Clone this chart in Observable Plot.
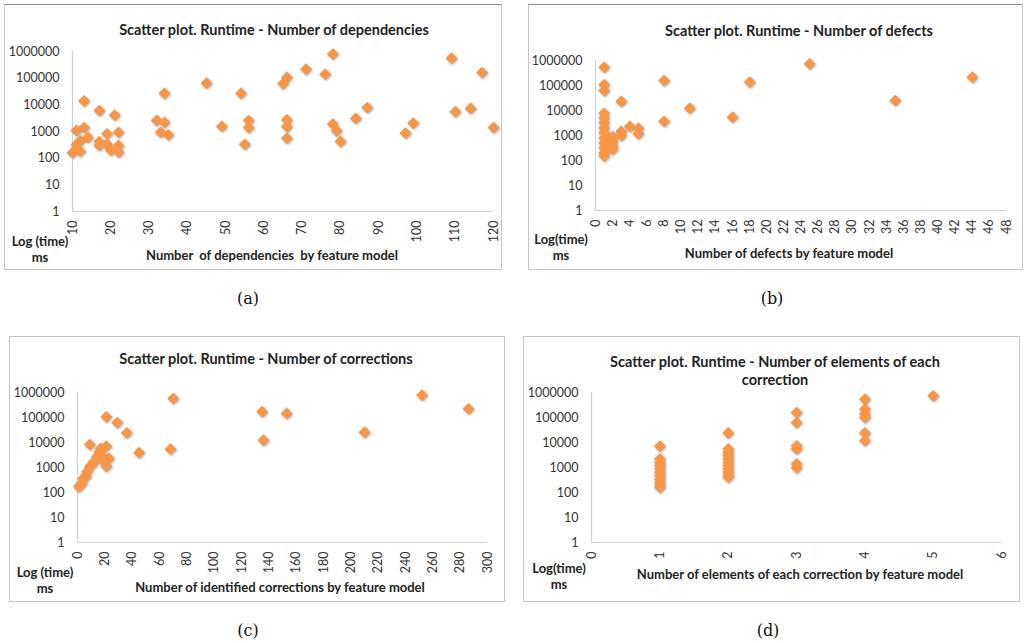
<!DOCTYPE html>
<html>
<head>
<meta charset="utf-8">
<script src="https://cdn.jsdelivr.net/npm/d3@7"></script>
<script src="https://cdn.jsdelivr.net/npm/@observablehq/plot@0.6"></script>
<style>
  html, body { margin: 0; padding: 0; background: #fff; }
  #root { position: relative; width: 1024px; height: 643px; overflow: hidden; background: #fff; font-family: Lato, "Open Sans", sans-serif; }
  .box { position: absolute; box-sizing: border-box; border: 1px solid #c4c4c4; }
  .lbl { position: absolute; transform: translate(-50%, -50%); white-space: pre; color: #222; font-weight: bold; }
  .cap { position: absolute; transform: translate(-50%, -50%); font-family: "DejaVu Serif", "Liberation Serif", serif; font-size: 16px; color: #111; }
  .wrap { position: absolute; }
</style>
</head>
<body>
<div id="root"></div>
<script>
// ---- data ----
const yTicks = [1, 10, 100, 1000, 10000, 100000, 1000000];

// (a) dependencies
const depTicks = [10, 20, 30, 40, 50, 60, 70, 80, 90, 100, 110, 120];
const depX = [10, 11, 11, 12, 12, 13, 13, 14, 17, 17, 17, 19, 19, 20, 21, 22, 22, 22, 32, 33, 34, 34, 35, 45, 49, 54, 55, 56, 56, 65, 66, 66, 66, 66, 71, 76, 78, 78, 79, 80, 84, 87, 97, 99, 109, 110, 114, 117, 120];
const depY = [160, 1100, 320, 450, 180, 14000, 1400, 600, 6100, 420, 300, 820, 330, 200, 4100, 930, 300, 170, 2600, 930, 27000, 2200, 750, 65000, 1550, 27000, 330, 2600, 1400, 63000, 107000, 2700, 1540, 560, 218000, 141000, 800000, 1900, 1060, 425, 3100, 7900, 870, 2050, 560000, 5500, 7300, 163000, 1400];

// (b) defects
const defTicks = [0, 2, 4, 6, 8, 10, 12, 14, 16, 18, 20, 22, 24, 26, 28, 30, 32, 34, 36, 38, 40, 42, 44, 46, 48];
const defX = [1, 1, 1, 3, 8, 18, 25, 44, 35, 11, 16, 8, 4, 5, 5, 3, 3, 1, 1, 1, 1, 1, 1, 1, 1, 1, 1, 2, 2, 2, 2];
const defY = [540000, 108000, 63000, 23000, 158000, 136000, 740000, 215000, 25000, 12300, 5400, 3700, 2300, 1950, 1170, 1450, 1000, 7700, 5000, 3200, 2000, 1300, 800, 500, 320, 200, 150, 900, 600, 380, 280];

// (c) corrections
const corTicks = [0, 20, 40, 60, 80, 100, 120, 140, 160, 180, 200, 220, 240, 260, 280, 300];
const corX = [70, 252, 286, 135, 153, 136, 210, 21, 29, 36, 45, 68, 9, 21, 23, 21, 1, 2, 3, 4, 6, 7, 9, 10, 12, 13, 14, 16, 17, 18, 19];
const corY = [575000, 780000, 223000, 170000, 145000, 12300, 25700, 107000, 63000, 24500, 3900, 5400, 8300, 7100, 2300, 1120, 170, 200, 230, 365, 430, 680, 1070, 1230, 1700, 1950, 2700, 4300, 5800, 3000, 1800];

// (d) elements of each correction
const elTicks = [0, 1, 2, 3, 4, 5, 6];
const elX = [1, 1, 1, 1, 1, 1, 1, 1, 1, 1, 1, 2, 2, 2, 2, 2, 2, 2, 2, 2, 2, 2, 3, 3, 3, 3, 3, 3, 4, 4, 4, 4, 4, 4, 5];
const elY = [7100, 2200, 1600, 1200, 900, 650, 480, 350, 260, 200, 160, 24000, 5500, 4000, 3000, 2200, 1600, 1200, 900, 650, 480, 410, 158000, 63000, 7400, 5500, 1380, 970, 540000, 218000, 137000, 100000, 24000, 11800, 740000];

// ---- rendering ----
const root = document.getElementById("root");
const ORANGE = "#F79646";
const diamond = {
  draw(context, size) {
    const r = Math.sqrt(size) * 0.62625;
    context.moveTo(0, -r); context.lineTo(r, 0); context.lineTo(0, r); context.lineTo(-r, 0); context.closePath();
  }
};

function addText(cls, text, x, y, size) {
  const d = document.createElement("div");
  d.className = cls;
  d.textContent = text;
  d.style.left = x + "px";
  d.style.top = y + "px";
  if (size) d.style.fontSize = size + "px";
  root.appendChild(d);
}

function panel(cfg) {
  const box = document.createElement("div");
  box.className = "box";
  Object.assign(box.style, {left: cfg.left + "px", top: cfg.top + "px", width: cfg.width + "px", height: cfg.height + "px"});
  if (cfg.topColor) box.style.borderTopColor = cfg.topColor;
  root.appendChild(box);

  const data = cfg.xs.map((x, i) => ({x, y: cfg.ys[i]}));
  const chart = Plot.plot({
    width: cfg.width,
    height: cfg.height,
    marginLeft: cfg.mL, marginRight: cfg.mR, marginTop: cfg.mT, marginBottom: cfg.mB,
    style: {background: "transparent", fontFamily: "Lato, sans-serif", fontSize: "12.5px", color: "#333"},
    x: {domain: cfg.xDomain, axis: null},
    y: {type: "log", domain: [1, 1000000], ticks: yTicks, tickFormat: d => String(d), tickSize: 0, tickPadding: 13, label: null},
    marks: [
      Plot.ruleX([cfg.xDomain[0]], {stroke: "#d0d0d0", strokeWidth: 1.2}),
      Plot.ruleY([1], {stroke: "#d0d0d0", strokeWidth: 1.2}),
      Plot.text(cfg.xTicks, {x: d => d, y: () => 1, text: d => String(d), rotate: -90, textAnchor: "end", lineAnchor: "middle", dy: 9, fill: "#333", fontSize: 12.5}),
      Plot.dot(data, {x: "x", y: "y", symbol: diamond, r: 5.3, fill: ORANGE, stroke: "none"})
    ]
  });
  chart.querySelectorAll('g[aria-label="dot"]').forEach(g => g.style.filter = "drop-shadow(1px 1.5px 1px rgba(0,0,0,0.35))");
  const wrap = document.createElement("div");
  wrap.className = "wrap";
  wrap.style.left = cfg.left + "px";
  wrap.style.top = cfg.top + "px";
  wrap.appendChild(chart);
  root.appendChild(wrap);

  cfg.titles.forEach(t => addText("lbl", t[0], t[1], t[2], 14.5));
  addText("lbl", cfg.logLabel, cfg.logX, cfg.logY, 13);
  addText("lbl", "ms", cfg.logX, cfg.logY + 16, 13);
  addText("lbl", cfg.xLabel, cfg.xLabelX, cfg.xLabelY, 13);
  addText("cap", cfg.caption, cfg.capX, cfg.capY);
}

panel({
  left: 4, top: 4, width: 498, height: 266, topColor: "#8a8a8a",
  mL: 68, mR: 9, mT: 47, mB: 59,
  xDomain: [10, 120], xTicks: depTicks, xs: depX, ys: depY,
  titles: [["Scatter plot. Runtime - Number of dependencies", 274, 29]],
  logLabel: "Log (time)", logX: 40, logY: 241,
  xLabel: "Number  of dependencies  by feature model", xLabelX: 272, xLabelY: 255,
  caption: "(a)", capX: 248, capY: 298
});

panel({
  left: 528, top: 4, width: 495, height: 266, topColor: "#8a8a8a",
  mL: 67, mR: 17, mT: 56, mB: 60,
  xDomain: [0, 48], xTicks: defTicks, xs: defX, ys: defY,
  titles: [["Scatter plot. Runtime - Number of defects", 799, 30]],
  logLabel: "Log(time)", logX: 561, logY: 239,
  xLabel: "Number of defects by feature model", xLabelX: 789, xLabelY: 253,
  caption: "(b)", capX: 772, capY: 298
});

panel({
  left: 9, top: 336, width: 496, height: 266,
  mL: 68, mR: 18, mT: 56, mB: 60,
  xDomain: [0, 300], xTicks: corTicks, xs: corX, ys: corY,
  titles: [["Scatter plot. Runtime - Number of corrections", 266, 358]],
  logLabel: "Log (time)", logX: 45, logY: 572,
  xLabel: "Number of identified corrections by feature model", xLabelX: 280, xLabelY: 587,
  caption: "(c)", capX: 248, capY: 630
});

panel({
  left: 523, top: 336, width: 497, height: 266,
  mL: 68, mR: 19, mT: 56, mB: 60,
  xDomain: [0, 6], xTicks: elTicks, xs: elX, ys: elY,
  titles: [["Scatter plot. Runtime - Number of elements of each", 775, 361], ["correction", 775, 379]],
  logLabel: "Log(time)", logX: 559, logY: 568,
  xLabel: "Number of elements of each correction by feature model", xLabelX: 800, xLabelY: 574,
  caption: "(d)", capX: 768, capY: 630
});
</script>
</body>
</html>
